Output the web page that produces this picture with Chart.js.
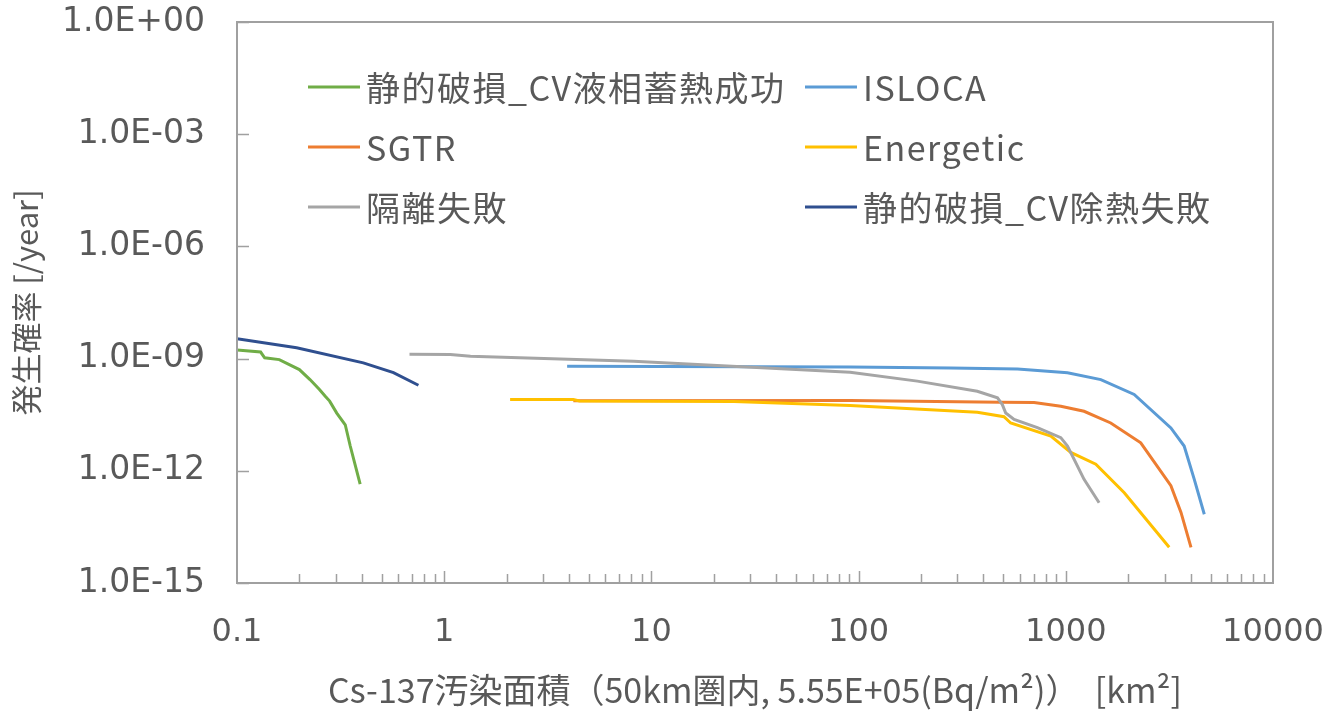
<!DOCTYPE html>
<html>
<head>
<meta charset="utf-8">
<script src="https://cdn.jsdelivr.net/npm/chart.js@4.4.1/dist/chart.umd.min.js"></script>
<style>
  html, body { margin: 0; padding: 0; background: #fff; }
  #wrap { width: 1342px; height: 711px; }
</style>
</head>
<body>
<div id="wrap"><canvas id="graphCanvas" width="1342" height="711"></canvas></div>
<script>
// series names (legend order)
const seriesNames = ['静的破損_CV液相蓄熱成功', 'ISLOCA', 'SGTR', 'Energetic', '隔離失敗', '静的破損_CV除熱失敗'];
const seriesColors = ['#70AD47', '#5B9BD5', '#ED7D31', '#FFC000', '#A5A5A5', '#2F4F8F'];

// 静的破損_CV液相蓄熱成功
const cvSuccessX = [0.1, 0.13, 0.136, 0.16, 0.2, 0.225, 0.25, 0.266, 0.28, 0.303, 0.333, 0.352, 0.393];
const cvSuccessY = [1.7e-9, 1.5e-9, 1.05e-9, 9.4e-10, 5.1e-10, 2.75e-10, 1.5e-10, 1.0e-10, 7.3e-11, 3.5e-11, 1.7e-11, 4.6e-12, 4.4e-13];

// ISLOCA
const islocaX = [3.92, 91, 278, 585, 1019, 1476, 2138, 3215, 3726, 4169, 4660];
const islocaY = [6.2e-10, 6.0e-10, 5.6e-10, 5.3e-10, 4.2e-10, 2.75e-10, 1.1e-10, 1.4e-11, 4.6e-12, 5.9e-13, 6.9e-14];

// SGTR
const sgtrX = [4.2, 91, 485, 703, 946, 1225, 1648, 2300, 3215, 3597, 4020];
const sgtrY = [7.5e-11, 7.6e-11, 6.8e-11, 6.7e-11, 5.3e-11, 3.9e-11, 1.9e-11, 5.6e-12, 4.0e-13, 7.7e-14, 9.0e-15];

// Energetic
const energeticX = [2.08, 4.2, 4.5, 25, 91, 374, 503, 542, 847, 1057, 1396, 1915, 3155];
const energeticY = [8.1e-11, 8.1e-11, 7.4e-11, 7.1e-11, 5.6e-11, 3.7e-11, 2.8e-11, 1.9e-11, 8.5e-12, 3.1e-12, 1.5e-12, 2.6e-13, 9.0e-15];

// 隔離失敗
const isolationX = [0.68, 1.07, 1.34, 8.2, 91, 192, 374, 468, 494, 513, 563, 729, 946, 1019, 1225, 1448];
const isolationY = [1.3e-9, 1.28e-9, 1.15e-9, 8.5e-10, 4.3e-10, 2.5e-10, 1.34e-10, 8.9e-11, 5.9e-11, 3.5e-11, 2.36e-11, 1.42e-11, 7.7e-12, 4.6e-12, 5.9e-13, 1.4e-13];

// 静的破損_CV除熱失敗
const cvFailX = [0.1, 0.194, 0.407, 0.569, 0.751];
const cvFailY = [3.4e-9, 1.94e-9, 7.7e-10, 4.2e-10, 1.94e-10];

// tick labels
const xTickValues = [0.1, 1, 10, 100, 1000, 10000];
const yTickValues = [1, 1e-3, 1e-6, 1e-9, 1e-12, 1e-15];

const seriesX = [cvSuccessX, islocaX, sgtrX, energeticX, isolationX, cvFailX];
const seriesY = [cvSuccessY, islocaY, sgtrY, energeticY, isolationY, cvFailY];

const textColor = '#595959';
const axisColor = '#A0A0A0';

function yLabel(v) {
    let e = Math.round(Math.log10(v));
    let s = e < 0 ? '-' : '+';
    let a = Math.abs(e);
    return '1.0E' + s + (a < 10 ? '0' + a : '' + a);
}

// 枠線・内向き目盛り・凡例
const decorPlugin = {
    id: 'decor',
    afterDraw(chart) {
        const ctx = chart.ctx;
        const area = chart.chartArea;
        const xs = chart.scales.x;
        const ys = chart.scales.y;
        ctx.save();
        ctx.strokeStyle = axisColor;
        ctx.lineWidth = 2;
        ctx.strokeRect(area.left, area.top, area.right - area.left, area.bottom - area.top);

        // x ticks (inside)
        ctx.beginPath();
        for (let d = -1; d < 4; d++) {
            for (let m = 1; m <= 9; m++) {
                let v = m * Math.pow(10, d);
                let px = Math.round(xs.getPixelForValue(v)) + 0.5;
                let len = m === 1 ? 12 : 9;
                if (m === 1 && d === -1) continue;
                ctx.moveTo(px, area.bottom);
                ctx.lineTo(px, area.bottom - len);
            }
        }
        // y ticks (inside)
        yTickValues.forEach(function(v) {
            let py = Math.round(ys.getPixelForValue(v)) + 0.5;
            ctx.moveTo(area.left, py);
            ctx.lineTo(area.left + 12, py);
        });
        ctx.lineWidth = 1.5;
        ctx.stroke();

        // legend, two columns
        const colX = [308, 805];
        const rowY = [87, 147, 207];
        ctx.font = '34px "Noto Sans CJK JP"';
        ctx.letterSpacing = '1.5px';
        ctx.textBaseline = 'middle';
        ctx.textAlign = 'left';
        chart.data.datasets.forEach(function(ds, i) {
            let x = colX[i % 2];
            let y = rowY[Math.floor(i / 2)];
            ctx.strokeStyle = ds.borderColor;
            ctx.lineWidth = 3;
            ctx.beginPath();
            ctx.moveTo(x, y);
            ctx.lineTo(x + 52, y);
            ctx.stroke();
            ctx.fillStyle = textColor;
            ctx.fillText(ds.label, x + 58, y + 1);
        });
        ctx.restore();
    }
};

const datasets = seriesNames.map(function(name, i) {
    return {
        label: name,
        data: seriesX[i].map(function(x, j) { return { x: x, y: seriesY[i][j] }; }),
        borderColor: seriesColors[i],
        backgroundColor: seriesColors[i],
        borderWidth: 3,
        pointRadius: 0,
        showLine: true,
        tension: 0,
        order: seriesNames.length - i
    };
});

let ctx = document.getElementById('graphCanvas').getContext('2d');
let chart = new Chart(ctx, {
    type: 'scatter',
    data: { datasets: datasets },
    options: {
        responsive: false,
        animation: false,
        layout: { padding: { top: 22, right: 69, left: 0, bottom: 0 } },
        plugins: { legend: { display: false }, tooltip: { enabled: false } },
        scales: {
            x: {
                type: 'logarithmic',
                min: 0.1,
                max: 10000,
                afterBuildTicks: function(scale) {
                    scale.ticks = xTickValues.map(function(v) { return { value: v }; });
                },
                afterFit: function(scale) {
                    scale.height = 128;
                    scale.paddingLeft = 0;
                    scale.paddingRight = 0;
                },
                grid: { display: false, drawTicks: false },
                border: { display: true, color: axisColor, width: 2 },
                ticks: {
                    padding: 30,
                    color: textColor,
                    font: { family: 'DejaVu Sans', size: 32 },
                    maxRotation: 0,
                    autoSkip: false,
                    callback: function(v) { return v < 1 ? String(v) : String(Math.round(v)); }
                },
                title: {
                    display: true,
                    text: 'Cs-137汚染面積（50km圏内, 5.55E+05(Bq/m²)）  [km²]',
                    color: textColor,
                    font: { family: 'Noto Sans CJK JP', size: 34 },
                    padding: { top: 0, bottom: 1 }
                }
            },
            y: {
                type: 'logarithmic',
                min: 1e-15,
                max: 1,
                afterBuildTicks: function(scale) {
                    scale.ticks = yTickValues.map(function(v) { return { value: v }; });
                },
                afterFit: function(scale) {
                    scale.width = 237;
                    scale.paddingTop = 0;
                    scale.paddingBottom = 0;
                },
                grid: { display: false, drawTicks: false },
                border: { display: true, color: axisColor, width: 2 },
                ticks: {
                    padding: 32,
                    color: textColor,
                    font: { family: 'DejaVu Sans', size: 33 },
                    autoSkip: false,
                    callback: function(v) { return yLabel(v); }
                },
                title: {
                    display: true,
                    text: '発生確率 [/year]',
                    color: textColor,
                    font: { family: 'Noto Sans CJK JP', size: 31 },
                    padding: { top: 8, bottom: 0 }
                }
            }
        }
    },
    plugins: [decorPlugin]
});
</script>
</body>
</html>
